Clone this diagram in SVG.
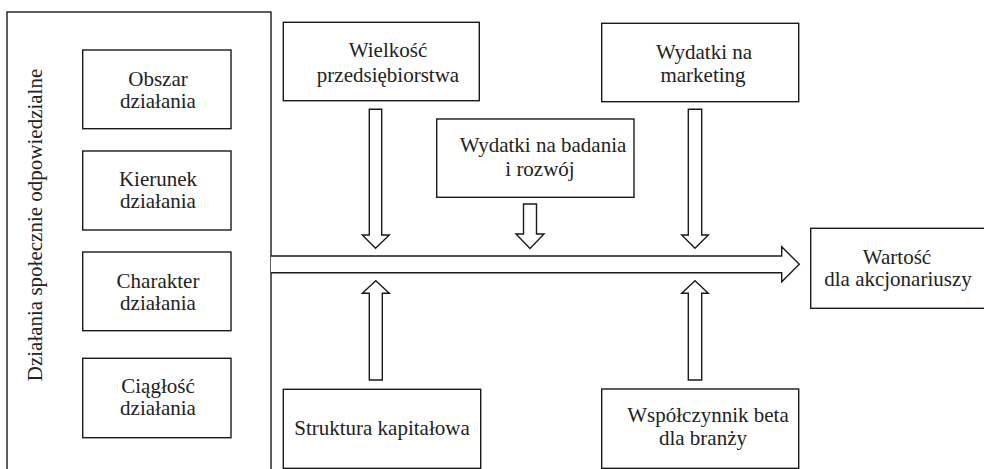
<svg xmlns="http://www.w3.org/2000/svg" width="984" height="469" viewBox="0 0 984 469">
<style>
.b{fill:#fff;stroke:#1a1a1a;stroke-width:1.4}
.a{fill:#fff;stroke:#1a1a1a;stroke-width:1.4;stroke-linejoin:miter}
.t{font-family:'Liberation Serif','Times New Roman',Times,'DejaVu Serif',serif;font-size:21px;fill:#222;text-anchor:middle}
</style>
<rect width="984" height="469" fill="#fff"/>
<g id="csr">
<rect class="b" x="7" y="12" width="264" height="470"/>
<text class="t" font-family="Liberation Serif" transform="translate(42,225) rotate(-90)">Działania społecznie odpowiedzialne</text>
</g>
<g id="obszar">
<rect class="b" x="82.7" y="50" width="148.3" height="78.7"/>
<text class="t" font-family="Liberation Serif" x="158" y="85.5">Obszar</text>
<text class="t" font-family="Liberation Serif" x="158" y="107.5">działania</text>
</g>
<g id="kierunek">
<rect class="b" x="82.7" y="151" width="148.3" height="79"/>
<text class="t" font-family="Liberation Serif" x="158" y="185.5">Kierunek</text>
<text class="t" font-family="Liberation Serif" x="158" y="207.5">działania</text>
</g>
<g id="charakter">
<rect class="b" x="82.7" y="252" width="148.3" height="78.7"/>
<text class="t" font-family="Liberation Serif" x="158" y="288">Charakter</text>
<text class="t" font-family="Liberation Serif" x="158" y="310">działania</text>
</g>
<g id="ciaglosc">
<rect class="b" x="82.7" y="358.3" width="148.3" height="79.4"/>
<text class="t" font-family="Liberation Serif" x="158" y="393">Ciągłość</text>
<text class="t" font-family="Liberation Serif" x="158" y="415">działania</text>
</g>
<g id="wielkosc">
<rect class="b" x="283.3" y="22.3" width="196" height="78.4"/>
<text class="t" font-family="Liberation Serif" x="388" y="57.3">Wielkość</text>
<text class="t" font-family="Liberation Serif" x="388" y="81.7">przedsiębiorstwa</text>
</g>
<g id="badania">
<rect class="b" x="436.7" y="119" width="197.3" height="78.3"/>
<text class="t" font-family="Liberation Serif" x="543" y="152.3">Wydatki na badania</text>
<text class="t" font-family="Liberation Serif" x="540" y="175.7">i rozwój</text>
</g>
<g id="marketing">
<rect class="b" x="601.7" y="23.3" width="197" height="78.4"/>
<text class="t" font-family="Liberation Serif" x="704" y="58.5">Wydatki na</text>
<text class="t" font-family="Liberation Serif" x="703" y="81.5">marketing</text>
</g>
<g id="wartosc">
<rect class="b" x="810.7" y="228.3" width="180" height="80"/>
<text class="t" font-family="Liberation Serif" x="897" y="263.5">Wartość</text>
<text class="t" font-family="Liberation Serif" x="898" y="285.5">dla akcjonariuszy</text>
</g>
<g id="struktura">
<rect class="b" x="283.3" y="389.3" width="197.4" height="79"/>
<text class="t" font-family="Liberation Serif" x="382" y="435">Struktura kapitałowa</text>
</g>
<g id="beta">
<rect class="b" x="601.7" y="389" width="197" height="79.3"/>
<text class="t" font-family="Liberation Serif" x="708" y="421.7">Współczynnik beta</text>
<text class="t" font-family="Liberation Serif" x="703" y="445">dla branży</text>
</g>
<g id="connectors">
<path class="a" d="M271,256 H781.7 V246.7 L799.3,264.3 L781.7,281.7 V272.7 H271"/>
<path class="a" d="M369.3,109.3 H381.7 V235 H389.3 L375.5,248.3 L362.3,235 H369.3 Z"/>
<path class="a" d="M523.5,204 H536.5 V234 H544 L530,248.5 L516,234 H523.5 Z"/>
<path class="a" d="M688.3,109.3 H701.7 V235 H708.3 L695,248.3 L681.7,235 H688.3 Z"/>
<path class="a" d="M369.3,380 H382.3 V293.3 H389.3 L375.8,280.7 L362.3,293.3 H369.3 Z"/>
<path class="a" d="M688.3,380 H701.7 V293.3 H708.3 L695,280.7 L681.7,293.3 H688.3 Z"/>
</g>
</svg>
